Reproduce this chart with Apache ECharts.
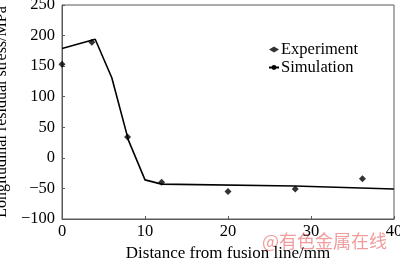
<!DOCTYPE html>
<html><head><meta charset="utf-8">
<script src="https://cdn.jsdelivr.net/npm/echarts@6/dist/echarts.min.js"></script>
<style>html,body{margin:0;padding:0;background:#fff}#c{width:400px;height:258px}</style>
</head><body><div id="c"></div>
<script>
var expX = [0, 3.6, 7.9, 12, 20, 28.1, 36.2];
var expY = [153, 189, 34, -40, -55, -51, -34];
var simX = [0, 4, 6, 8, 10, 12, 28, 40];
var simY = [179, 194, 131, 29, -36, -43, -46, -51];
var xTicks = [0, 10, 20, 30, 40];
var yTicks = [-100, -50, 0, 50, 100, 150, 200, 250];

function pairs(xs, ys){ return xs.map(function(x,i){ return [x, ys[i]]; }); }
var F = 'Liberation Serif';
var axisCol = '#5a5a5a';
var chart = echarts.init(document.getElementById('c'));
chart.setOption({
  animation:false,
  textStyle:{fontFamily:F, color:'#000'},
  grid:{left:62, right:6, top:5, bottom:39, show:true, borderColor:axisCol, borderWidth:1,
        containLabel:false, outerBoundsMode:'none'},
  legend:{
    orient:'vertical', left:263, top:36, itemGap:1, itemWidth:10, itemHeight:6,
    textStyle:{fontFamily:F, fontSize:16.5, color:'#000', padding:[0,0,0,-3]},
    data:[{name:'Experiment', icon:'diamond'}, {name:'Simulation'}]
  },
  xAxis:{
    type:'value', min:xTicks[0], max:xTicks[xTicks.length-1], interval:10,
    name:'Distance from fusion line/mm', nameLocation:'middle', nameGap:25,
    nameTextStyle:{fontFamily:F, fontSize:17, color:'#000'},
    axisLine:{onZero:false, lineStyle:{color:axisCol, width:1}},
    axisTick:{inside:true, length:3, lineStyle:{color:axisCol}},
    axisLabel:{fontFamily:F, fontSize:16.5, color:'#000', margin:4},
    splitLine:{show:false}
  },
  yAxis:{
    type:'value', min:yTicks[0], max:yTicks[yTicks.length-1], interval:50,
    name:'Longitudinal residual stress/MPa', nameLocation:'middle', nameGap:52,
    nameTextStyle:{fontFamily:F, fontSize:16, color:'#000'},
    axisLine:{show:true, onZero:false, lineStyle:{color:axisCol, width:1}},
    axisTick:{show:true, inside:true, length:3, lineStyle:{color:axisCol}},
    axisLabel:{fontFamily:F, fontSize:16.5, color:'#000', margin:7,
      formatter:function(v){ return String(v).replace('-', '\u2212'); }},
    splitLine:{show:false}
  },
  series:[
    {name:'Experiment', type:'scatter', data:pairs(expX, expY), symbol:'diamond', symbolSize:7,
     itemStyle:{color:'#000'}},
    {name:'Simulation', type:'line', data:pairs(simX, simY), symbol:'none', showSymbol:false,
     lineStyle:{color:'#000', width:1.6}, itemStyle:{color:'#000'}}
  ],
  graphic:[{type:'text', left:262, top:232,
    style:{text:'@有色金属在线', font:'18px "Noto Sans CJK SC"', fill:'rgba(232,90,90,0.6)'}}]
});
</script></body></html>
